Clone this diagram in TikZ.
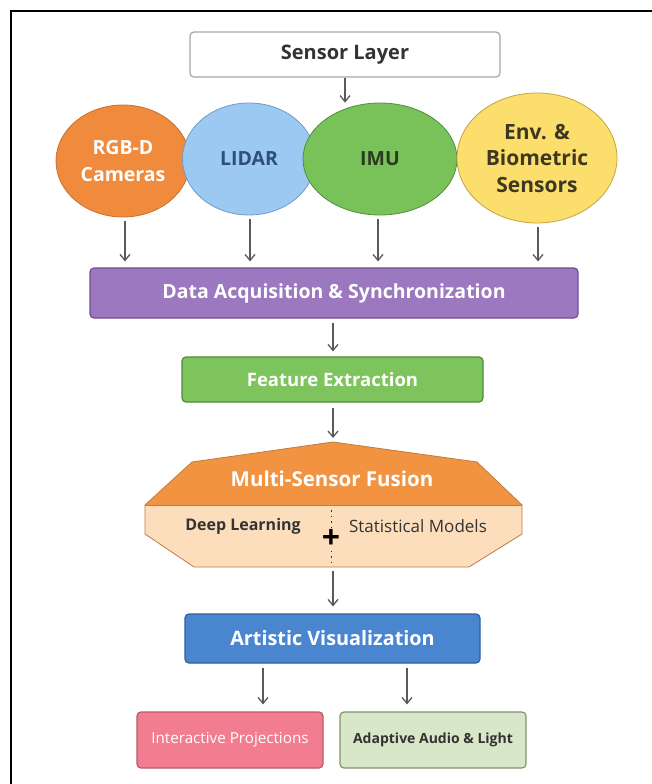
\documentclass[tikz,border=0pt]{standalone}
\usepackage{fontspec}
\setmainfont{Open Sans}
\usetikzlibrary{shapes.geometric,arrows.meta}
\definecolor{txtdark}{HTML}{333333}
\definecolor{arrgray}{HTML}{5A5A5A}
\definecolor{orangeF}{HTML}{F08A3C}\definecolor{orangeD}{HTML}{C8702E}
\definecolor{blueF}{HTML}{9CC9F1}\definecolor{blueD}{HTML}{6F9BC8}
\definecolor{blueT}{HTML}{2C4E80}
\definecolor{greenF}{HTML}{79C25A}\definecolor{greenD}{HTML}{4E8F3A}
\definecolor{greenT}{HTML}{2A3A20}
\definecolor{yelF}{HTML}{FCDE6C}\definecolor{yelD}{HTML}{C2A444}
\definecolor{yelT}{HTML}{3E3820}
\definecolor{purF}{HTML}{9B78C0}\definecolor{purD}{HTML}{6E4E93}
\definecolor{fgreenF}{HTML}{7DC45C}\definecolor{fgreenD}{HTML}{4F8A3A}
\definecolor{fusF}{HTML}{F29342}\definecolor{fusL}{HTML}{FDDEBC}\definecolor{fusD}{HTML}{C07B40}
\definecolor{artF}{HTML}{4A86CF}\definecolor{artD}{HTML}{2E5F9E}
\definecolor{pinkF}{HTML}{F27D90}\definecolor{pinkD}{HTML}{B85A68}
\definecolor{lgF}{HTML}{D9E7C9}\definecolor{lgD}{HTML}{7E9470}
\tikzset{
  arr/.style={draw=arrgray, line width=1.3pt, -{Straight Barb[length=6pt,width=10pt,line width=1.3pt]}},
  sens/.style={ellipse, draw, line width=0.8pt, inner sep=0pt, font=\fontsize{19.5}{26.5}\selectfont\bfseries, align=center},
  boxst/.style={rectangle, rounded corners=4pt, line width=1.2pt, inner sep=0pt, align=center},
}
\begin{document}
\begin{tikzpicture}[x=1pt,y=-1pt]
\useasboundingbox (0,0) rectangle (652,784);
\clip (0,0) rectangle (652,784);
\fill[white] (0,0) rectangle (652,784);
\draw[black, line width=2.5pt] (11,11) rectangle (720,820);

\node[boxst, draw=gray!70, fill=white, minimum width=310pt, minimum height=45pt,
  font=\fontsize{20}{22}\selectfont\bfseries, text=txtdark] (layer) at (345,54.5) {Sensor Layer};

\node[sens, fill=orangeF, draw=orangeD, minimum width=134pt, minimum height=112pt, text=white] (rgb) at (123,161) {RGB-D\\Cameras};
\node[sens, fill=blueF, draw=blueD, minimum width=133pt, minimum height=112pt, text=blueT] (lidar) at (249,159) {LIDAR};
\node[sens, fill=greenF, draw=greenD, minimum width=154pt, minimum height=112pt, text=greenT] (imu) at (380,159) {IMU};
\node[sens, fill=yelF, draw=yelD, minimum width=160pt, minimum height=130pt, text=yelT,
  font=\fontsize{21}{26.5}\selectfont\bfseries] (env) at (537,158) {Env. \&\\Biometric\\Sensors};

\draw[arr] (layer.south) -- (layer.south |- imu.north);

\node[boxst, fill=purF, draw=purD, minimum width=488pt, minimum height=50pt,
  font=\fontsize{19.5}{21}\selectfont\bfseries, text=white] (daq) at (334,293) {Data Acquisition \& Synchronization};

\foreach \n/\xx in {rgb/125,lidar/250,imu/378,env/538}{
  \draw[arr] ([yshift=-4pt]\n.south -| \xx,0) -- ([yshift=6pt]daq.north -| \xx,0);
}

\node[boxst, fill=fgreenF, draw=fgreenD, minimum width=301pt, minimum height=45pt,
  font=\fontsize{18.5}{20}\selectfont\bfseries, text=white] (feat) at (332.5,379.5) {Feature Extraction};

\draw[arr] ([yshift=-4pt]daq.south -| 333,0) -- ([yshift=5pt]feat.north -| 333,0);

% fusion shape
\fill[fusF] (333,442) -- (477,462) -- (522,505) -- (145,505) -- (192,462) -- cycle;
\fill[fusL] (145,505) -- (522,505) -- (522,534) -- (469,567) -- (194,567) -- (145,534) -- cycle;
\draw[fusD, line width=0.8pt, line join=round] (333,442) -- (477,462) -- (522,505) -- (522,534) -- (469,567) -- (194,567) -- (145,534) -- (145,505) -- (192,462) -- cycle;
\draw[fusD, line width=0.8pt] (145,505) -- (522,505);
\node[font=\fontsize{20.5}{22}\selectfont\bfseries, text=white] (fusion) at (332,479) {Multi-Sensor Fusion};
\node[font=\fontsize{16}{18}\selectfont\bfseries, text=txtdark] (deep) at (243,526) {Deep Learning};
\node[font=\fontsize{17}{18}\selectfont, text=txtdark] (stat) at (418,526) {Statistical Models};
\node[font=\fontsize{32}{32}\selectfont\bfseries, text=black, inner sep=0pt] (plus) at (331,539) {+};
\draw[txtdark, line width=1pt, dash pattern=on 1.5pt off 4pt] (331,510) -- ([yshift=2pt]plus.north);
\draw[txtdark, line width=1pt, dash pattern=on 1.5pt off 4pt] ([yshift=-2pt]plus.south) -- (331,566);
\coordinate (fustop) at (333,442);
\coordinate (fusbot) at (333,567);
\draw[arr] ([yshift=-5pt]feat.south -| 333,0) -- ([yshift=4pt]fustop);

\node[boxst, fill=artF, draw=artD, minimum width=295pt, minimum height=49pt,
  font=\fontsize{19.8}{21}\selectfont\bfseries, text=white] (art) at (332.5,638.5) {Artistic Visualization};
\draw[arr] ([yshift=-4pt]fusbot) -- ([yshift=7pt]art.north -| 333,0);

\node[boxst, fill=pinkF, draw=pinkD, minimum width=186pt, minimum height=56pt,
  font=\fontsize{15.2}{16}\selectfont, text=white] (proj) at (230,740) {Interactive Projections};
\node[boxst, fill=lgF, draw=lgD, minimum width=186pt, minimum height=56pt,
  font=\fontsize{14}{16}\selectfont\bfseries, text=txtdark] (audio) at (433,740) {Adaptive Audio \& Light};

\draw[arr] ([yshift=-4pt]art.south -| 263,0) -- ([yshift=7pt]proj.north -| 263,0);
\draw[arr] ([yshift=-4pt]art.south -| 407,0) -- ([yshift=7pt]audio.north -| 407,0);
\end{tikzpicture}
\end{document}
